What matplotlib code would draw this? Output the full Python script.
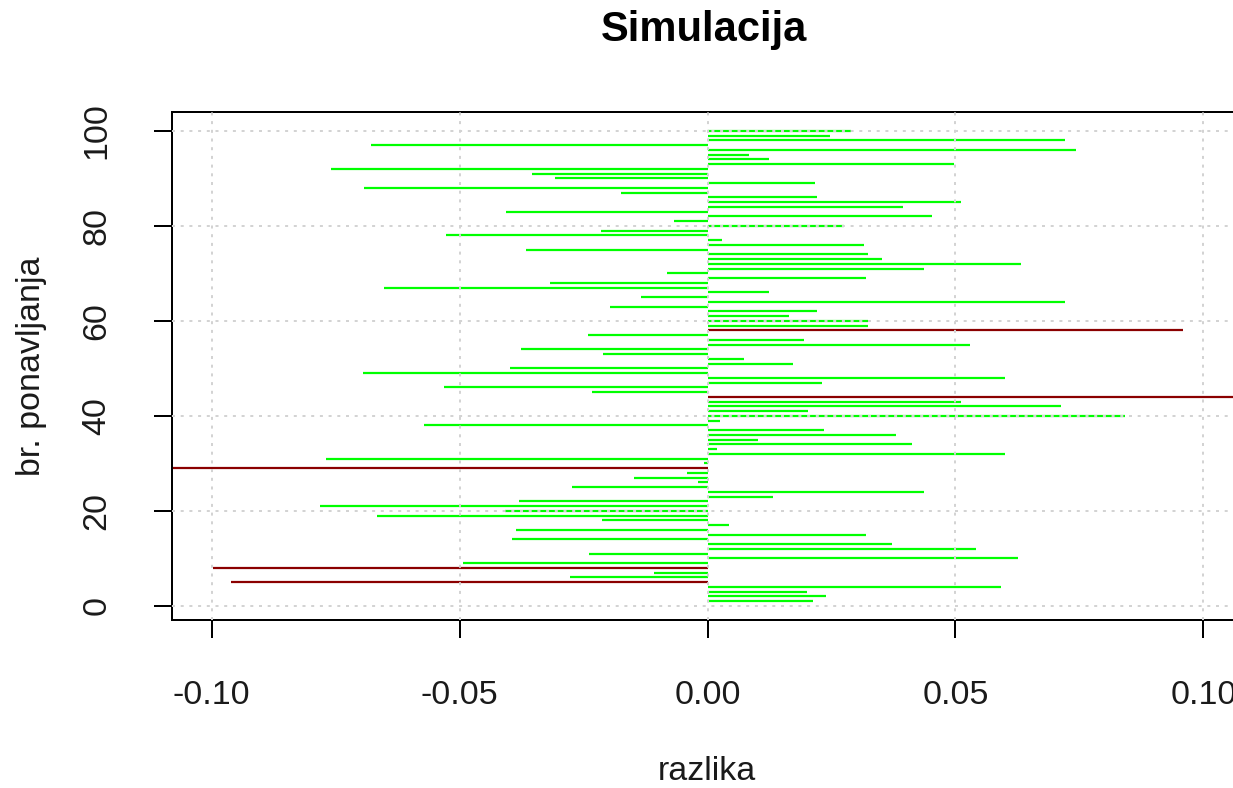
import matplotlib
matplotlib.use("Agg")
import matplotlib.pyplot as plt

plt.rcParams['font.family'] = ['Liberation Sans', 'DejaVu Sans']

# repetition index (1..100) and difference values
rep = list(range(1, 101))
razlika = [
    0.0213, 0.0239, 0.0200, 0.0592, -0.0962, -0.0278, -0.0108, -0.0997, -0.0493, 0.0627,   # 1-10
    -0.0238, 0.0542, 0.0373, -0.0395, 0.0319, -0.0387, 0.0043, -0.0212, -0.0666, -0.0408,   # 11-20
    -0.0782, -0.0381, 0.0132, 0.0436, -0.0273, -0.0020, -0.0149, -0.0042, -0.1150, -0.0008, # 21-30
    -0.0769, 0.0601, 0.0020, 0.0413, 0.0101, 0.0381, 0.0235, -0.0572, 0.0025, 0.0842,      # 31-40
    0.0203, 0.0712, 0.0511, 0.1150, -0.0233, -0.0532, 0.0230, 0.0601, -0.0694, -0.0398,    # 41-50
    0.0173, 0.0074, -0.0211, -0.0376, 0.0529, 0.0194, -0.0242, 0.0958, 0.0323, 0.0323,     # 51-60
    0.0164, 0.0221, -0.0197, 0.0721, -0.0135, 0.0124, -0.0653, -0.0318, 0.0319, -0.0081,   # 61-70
    0.0436, 0.0632, 0.0351, 0.0324, -0.0367, 0.0315, 0.0030, -0.0527, -0.0214, 0.0276,     # 71-80
    -0.0067, 0.0453, -0.0407, 0.0395, 0.0511, 0.0221, -0.0175, -0.0692, 0.0217, -0.0308,   # 81-90
    -0.0354, -0.0760, 0.0498, 0.0124, 0.0083, 0.0743, -0.0679, 0.0721, 0.0248, 0.0289,     # 91-100
]
# repetitions drawn in dark red (the rest are green)
red_reps = [5, 8, 29, 44, 58]

x_ticks = [-0.10, -0.05, 0.00, 0.05, 0.10]
x_ticklabels = ["-0.10", "-0.05", "0.00", "0.05", "0.10"]
y_ticks = [0, 20, 40, 60, 80, 100]
y_ticklabels = ["0", "20", "40", "60", "80", "100"]

W, H = 1233, 788
fig = plt.figure(figsize=(W / 100, H / 100), dpi=100)

# axes box in pixels: left 172, right 1243 (beyond the image edge), top 112, bottom 620
left, right, top, bottom = 172, 1243, 112, 620
ax = fig.add_axes([left / W, 1 - bottom / H, (right - left) / W, (bottom - top) / H])

colors = ['#8B0000' if r in red_reps else '#00FF00' for r in rep]
ax.hlines(rep, 0, razlika, colors=colors, linewidth=1.6, zorder=2)

ax.set_xlim(-0.108, 0.108)
ax.set_ylim(-2.96, 103.96)

ax.set_xticks(x_ticks)
ax.set_xticklabels(x_ticklabels)
ax.set_yticks(y_ticks)
ax.set_yticklabels(y_ticklabels, rotation=90, va='center')

ax.set_axisbelow(False)
ax.grid(True, color='#D3D3D3', linewidth=1.44, linestyle=(0, (1.5, 2.85)), zorder=3)

for s in ax.spines.values():
    s.set_linewidth(1.44)
    s.set_color('black')

ax.tick_params(axis='both', direction='out', length=13, width=1.44, color='black',
               labelsize=24.5, labelcolor='#1a1a1a')
ax.tick_params(axis='x', pad=30)
ax.tick_params(axis='y', pad=30)

fig.text(704 / W, 1 - 30 / H, "Simulacija", ha='center', va='center',
         fontsize=30, fontweight='bold')
fig.text(707 / W, 1 - 772 / H, "razlika", ha='center', va='center', fontsize=24.5,
         color='#1a1a1a')
fig.text(32 / W, 1 - 366 / H, "br. ponavljanja", ha='center', va='center',
         rotation=90, fontsize=24.5, color='#1a1a1a')

fig.savefig("out.png", dpi=100)
